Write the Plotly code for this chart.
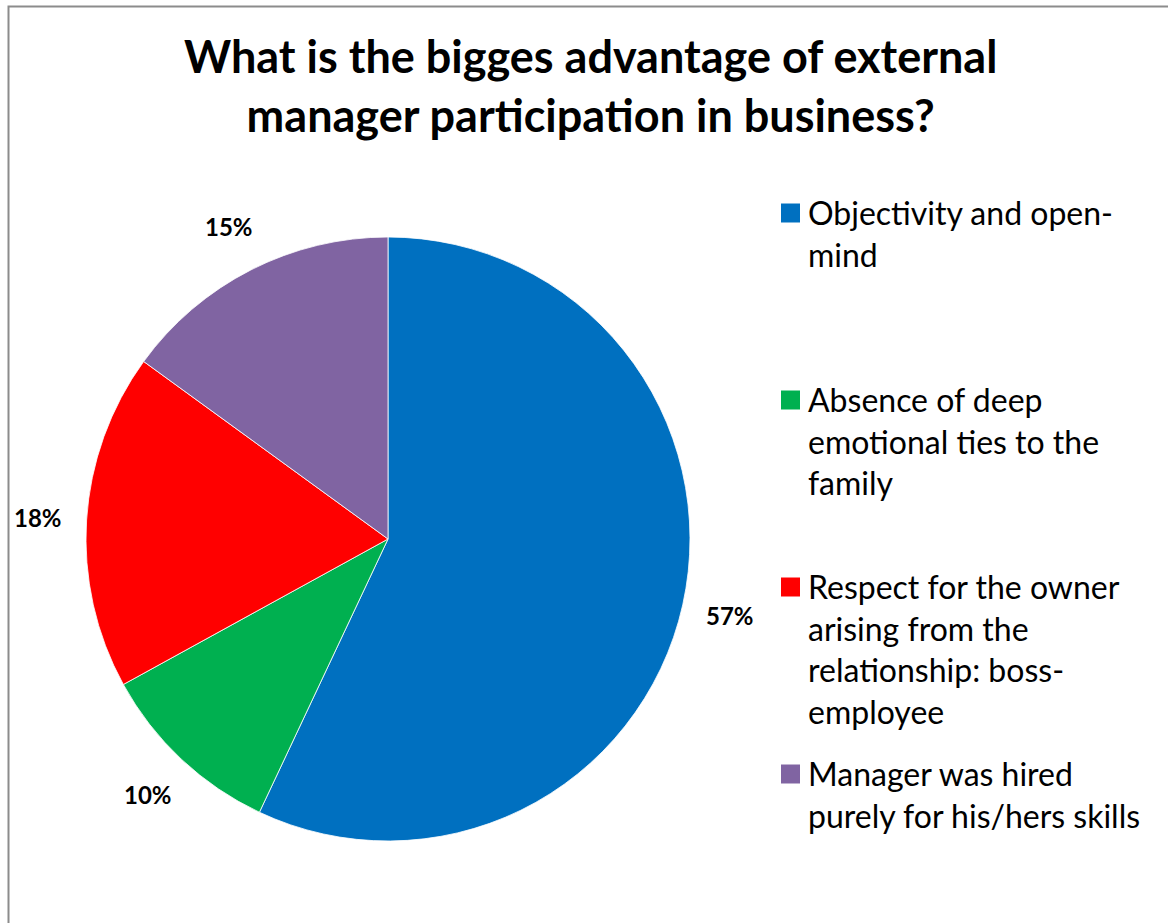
import math
import plotly.graph_objects as go

# Survey answers and their shares (%)
categories = [
    "Objectivity and open-mind",
    "Absence of deep emotional ties to the family",
    "Respect for the owner arising from the relationship: boss-employee",
    "Manager was hired purely for his/hers skills",
]
legend_lines = [
    ["Objectivity and open-", "mind"],
    ["Absence of deep", "emotional ties to the", "family"],
    ["Respect for the owner", "arising from the", "relationship: boss-", "employee"],
    ["Manager was hired", "purely for his/hers skills"],
]
shares = [57, 10, 18, 15]
colors = ["#0070C0", "#00B050", "#FF0000", "#8064A2"]

title_text = "What is the bigges advantage of external<br>manager participation in business?"

W, H = 1168, 923
FONT = "Lato, 'Open Sans', sans-serif"

# pie geometry in pixels
cx, cy, R = 388, 539, 302


def px(x):
    return x / W


def py(y):
    return 1 - y / H


fig = go.Figure()
fig.add_trace(go.Pie(
    labels=categories,
    values=shares,
    sort=False,
    direction="clockwise",
    rotation=0,
    marker=dict(colors=colors, line=dict(color="white", width=0.8)),
    textinfo="none",
    hoverinfo="label+percent",
    showlegend=False,
    domain=dict(x=[px(cx - R), px(cx + R)], y=[py(cy + R), py(cy - R)]),
))

annotations = []

# percentage labels placed outside each slice along its mid angle
total = sum(shares)
cum = 0
for v in shares:
    mid = (cum + v / 2) / total
    cum += v
    th = 2 * math.pi * mid
    k = 1.16
    lx = cx + k * R * math.sin(th)
    ly = cy - k * R * math.cos(th)
    annotations.append(dict(
        x=px(lx), y=py(ly), xref="paper", yref="paper",
        text=f"<b>{round(100 * v / total)}%</b>", showarrow=False,
        xanchor="center", yanchor="middle",
        font=dict(family=FONT, size=24, color="black"),
    ))

# legend: coloured squares with wrapped labels
shapes = []
leg_font = 32
line_h = leg_font * 1.3
for i, (lines, col) in enumerate(zip(legend_lines, colors)):
    yc = 213 + i * 187
    shapes.append(dict(
        type="rect", xref="paper", yref="paper",
        x0=px(781), x1=px(800), y0=py(yc + 9.5), y1=py(yc - 9.5),
        fillcolor=col, line=dict(width=0),
    ))
    annotations.append(dict(
        x=px(806), y=py(yc - line_h / 2 - 1), xref="paper", yref="paper",
        text="<br>".join(lines), showarrow=False, align="left",
        xanchor="left", yanchor="top",
        font=dict(family=FONT, size=leg_font, color="black"),
    ))

# chart title
annotations.append(dict(
    x=px(590), y=py(27), xref="paper", yref="paper",
    text=f"<b>{title_text}</b>", showarrow=False, align="center",
    xanchor="center", yanchor="top",
    font=dict(family=FONT, size=45, color="black"),
))

# chart frame
shapes.append(dict(
    type="rect", xref="paper", yref="paper",
    x0=px(8.5), x1=1.05, y0=-0.05, y1=py(6.5),
    line=dict(color="#8c8c8c", width=2), fillcolor="rgba(0,0,0,0)",
))

fig.update_layout(
    width=W, height=H,
    margin=dict(l=0, r=0, t=0, b=0),
    paper_bgcolor="white", plot_bgcolor="white",
    annotations=annotations, shapes=shapes,
)

fig.write_html("out.html")
